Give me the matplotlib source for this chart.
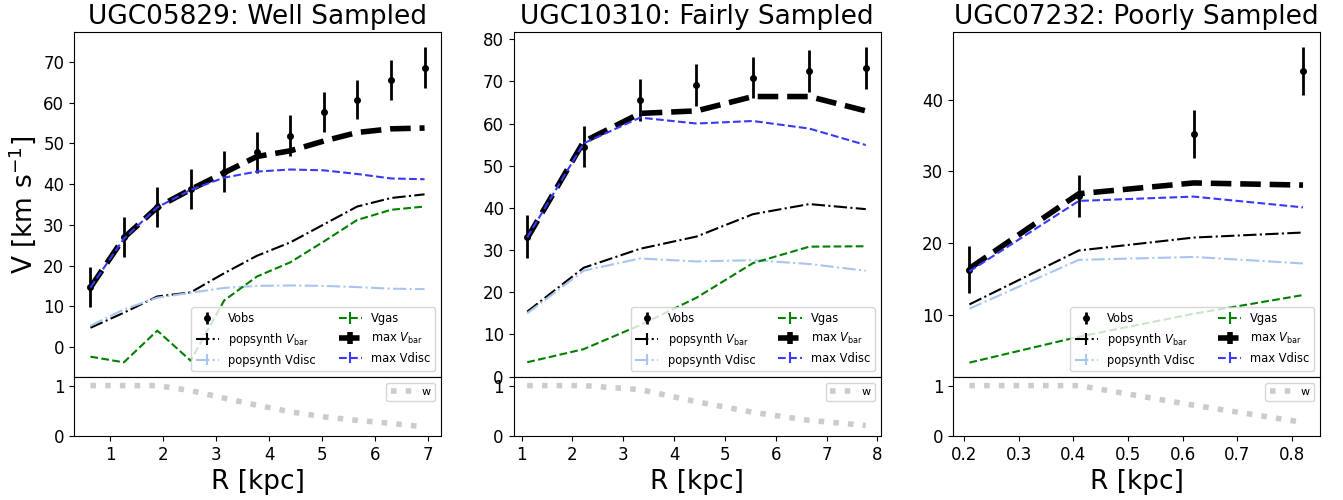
import numpy as np
import matplotlib
matplotlib.use('Agg')
import matplotlib.pyplot as plt

# --- data ---
titles = ['UGC05829: Well Sampled', 'UGC10310: Fairly Sampled', 'UGC07232: Poorly Sampled']

R1 = [0.63, 1.26, 1.89, 2.52, 3.15, 3.77, 4.40, 5.03, 5.66, 6.30, 6.93]
vobs1 = [14.8, 27.1, 34.3, 38.8, 43.1, 47.8, 51.9, 57.7, 60.8, 65.6, 68.6]
eobs1 = [4.9, 4.9, 4.9, 5.0, 5.0, 5.0, 5.0, 5.0, 4.9, 5.0, 5.0]
pvbar1 = [4.7, 8.4, 12.4, 13.4, 18.1, 22.4, 25.7, 30.1, 34.5, 36.6, 37.5]
pvdisc1 = [5.2, 9.2, 12.1, 13.3, 14.5, 15.0, 15.1, 15.0, 14.7, 14.3, 14.2]
vgas1 = [-2.4, -3.8, 4.0, -3.4, 11.4, 17.3, 20.8, 25.9, 31.2, 33.7, 34.5]
mvbar1 = [14.6, 26.8, 34.3, 38.7, 42.8, 46.8, 48.2, 50.6, 52.7, 53.6, 53.8]
mvdisc1 = [14.6, 26.6, 34.3, 38.6, 41.6, 43.1, 43.6, 43.4, 42.5, 41.4, 41.2]
w1 = [1.0, 1.0, 1.0, 0.9, 0.75, 0.61, 0.48, 0.38, 0.31, 0.25, 0.18]

R2 = [1.11, 2.22, 3.33, 4.44, 5.55, 6.66, 7.77]
vobs2 = [33.2, 54.5, 65.6, 69.1, 70.9, 72.4, 73.1]
eobs2 = [5.0, 4.9, 4.9, 4.9, 4.9, 5.0, 5.0]
pvbar2 = [15.4, 25.8, 30.3, 33.2, 38.5, 40.9, 39.7]
pvdisc2 = [15.0, 25.1, 28.0, 27.3, 27.6, 26.7, 25.1]
vgas2 = [3.4, 6.5, 12.2, 18.7, 26.9, 30.8, 30.9]
mvbar2 = [32.8, 55.7, 62.4, 63.0, 66.4, 66.4, 63.0]
mvdisc2 = [33.0, 55.3, 61.4, 60.0, 60.6, 58.8, 54.9]
w2 = [1.0, 1.0, 0.92, 0.68, 0.47, 0.31, 0.21]

R3 = [0.21, 0.41, 0.62, 0.82]
vobs3 = [16.35, 26.6, 35.2, 44.0]
eobs3 = [3.3, 2.9, 3.3, 3.3]
pvbar3 = [11.5, 19.0, 20.8, 21.5]
pvdisc3 = [10.9, 17.7, 18.1, 17.2]
vgas3 = [3.4, 7.0, 10.2, 12.8]
mvbar3 = [16.5, 26.9, 28.4, 28.1]
mvdisc3 = [16.1, 25.9, 26.5, 25.0]
w3 = [1.0, 1.0, 0.61, 0.27]

galaxies = [
    (R1, vobs1, eobs1, pvbar1, pvdisc1, vgas1, mvbar1, mvdisc1, w1),
    (R2, vobs2, eobs2, pvbar2, pvdisc2, vgas2, mvbar2, mvdisc2, w2),
    (R3, vobs3, eobs3, pvbar3, pvdisc3, vgas3, mvbar3, mvdisc3, w3),
]
ylims = [(-7.4, 77.4), (-0.1, 81.7), (1.4, 49.4)]
xticks = [[1, 2, 3, 4, 5, 6, 7], [1, 2, 3, 4, 5, 6, 7, 8],
          [0.2, 0.3, 0.4, 0.5, 0.6, 0.7, 0.8]]
xlims = [(0.32, 7.24), (0.84, 8.06), (0.18, 0.851)]

fig = plt.figure(figsize=(13.43, 5.0), dpi=100)
lefts = [74, 513.5, 953]
W, H = 1343., 500.

for i, (R, vobs, eobs, pvbar, pvdisc, vgas, mvbar, mvdisc, w) in enumerate(galaxies):
    l = lefts[i] / W
    ax = fig.add_axes([l, (H - 377) / H, 367 / W, 345 / H])
    axw = fig.add_axes([l, (H - 436) / H, 367 / W, 59 / H], sharex=ax)
    z = np.zeros(len(R))

    ax.errorbar(R, vobs, yerr=eobs, fmt='o', color='k', ms=4, elinewidth=2, label='Vobs')
    ax.errorbar(R, pvbar, yerr=z, fmt='-.', color='k', lw=1.5, label=r'popsynth $V_{\rm bar}$')
    ax.errorbar(R, pvdisc, yerr=z, fmt='-.', color='#a9c5ef', lw=1.5, label='popsynth Vdisc')
    ax.errorbar(R, vgas, yerr=z, fmt='--', color='g', lw=1.5, label='Vgas')
    ax.errorbar(R, mvbar, yerr=z, fmt='--', color='k', lw=4, label=r'max $V_{\rm bar}$')
    ax.errorbar(R, mvdisc, yerr=z, fmt='--', color='#3838ff', lw=1.5, label='max Vdisc')

    ax.set_ylim(*ylims[i])
    ax.set_title(titles[i], fontsize=19)
    ax.tick_params(axis='x', bottom=False, labelbottom=False)
    ax.tick_params(axis='y', labelsize=12)
    ax.legend(loc='lower right', ncol=2, fontsize=8.3)
    if i == 0:
        ax.set_ylabel(r'V [km s$^{-1}$]', fontsize=19)

    axw.plot(R, w, ':', color='#cccccc', lw=4, label='w')
    axw.set_ylim(0, 1.17)
    axw.set_yticks([0, 1])
    axw.set_xticks(xticks[i])
    axw.set_xlim(*xlims[i])
    axw.tick_params(labelsize=12)
    axw.legend(loc='upper right', fontsize=8)
    axw.set_xlabel('R [kpc]', fontsize=19)

fig.savefig('out.png', dpi=100)
